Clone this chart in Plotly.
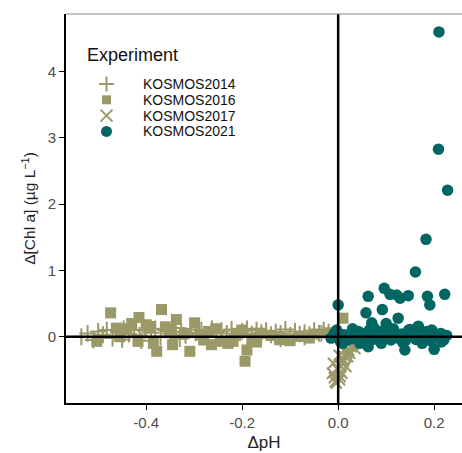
import plotly.graph_objects as go

OLIVE = "#9b9968"
TEAL = "#006662"

x2014 = [-0.535, -0.522, -0.51, -0.5, -0.49, -0.482, -0.47, -0.458, -0.447, -0.436, -0.425, -0.414,
         -0.402, -0.39, -0.381, -0.37, -0.36, -0.35, -0.338, -0.327, -0.318, -0.306, -0.296, -0.285,
         -0.275, -0.263, -0.254, -0.243, -0.232, -0.222, -0.211, -0.2, -0.19, -0.18, -0.17, -0.16,
         -0.15, -0.14, -0.13, -0.12, -0.11, -0.1, -0.09, -0.08, -0.07, -0.06, -0.05, -0.04, -0.03,
         -0.02, -0.012, -0.45, -0.41, -0.33, -0.29, -0.22, -0.17, -0.12, -0.07, -0.035]
y2014 = [0.0, 0.05, -0.05, 0.08, 0.03, 0.1, -0.02, 0.07, 0.12, 0.04, 0.1, 0.02,
         0.09, 0.06, 0.12, 0.0, 0.1, 0.05, 0.13, 0.08, 0.02, 0.11, 0.06, 0.1,
         0.03, 0.12, 0.07, 0.09, 0.05, 0.11, 0.02, 0.08, 0.12, 0.04, 0.1, 0.06,
         0.09, 0.03, 0.07, 0.05, 0.11, 0.02, 0.08, 0.04, 0.06, 0.03, 0.09, 0.05, 0.1,
         0.07, 0.02, -0.04, -0.06, -0.03, 0.04, -0.05, -0.02, -0.03, 0.0, 0.05]

x2016 = [-0.474, -0.415, -0.368, -0.337, -0.299, -0.378, -0.309, -0.194, -0.19, -0.264, -0.503,
         -0.417, -0.201, -0.219, 0.01, -0.462, -0.392, -0.35, -0.288, -0.246, -0.163, -0.122,
         -0.08, -0.44, -0.4, -0.36, -0.32, -0.27, -0.23, -0.18, -0.14, -0.1, -0.05, -0.02,
         -0.455, -0.43, -0.385, -0.345, -0.28, -0.255, -0.21, -0.17, -0.06, 0.005]
y2016 = [0.36, 0.29, 0.41, 0.26, 0.21, -0.22, -0.22, -0.37, -0.2, -0.12, -0.07,
         -0.07, 0.1, -0.07, 0.28, 0.13, 0.155, 0.1, 0.03, -0.07, 0.055, -0.045,
         0.005, 0.12, 0.18, 0.15, 0.05, 0.08, -0.1, -0.05, 0.02, -0.06, 0.04, 0.06,
         0.0, 0.2, -0.1, -0.12, -0.05, 0.12, 0.05, -0.08, -0.02, 0.02]

x2017 = [-0.012, -0.008, -0.004, 0.0, 0.003, 0.006, 0.01, 0.014, 0.018, 0.022, 0.026, 0.03,
         0.035, -0.01, 0.002, 0.008, 0.012, 0.016, 0.02, -0.006, 0.004, 0.024]
y2017 = [-0.55, -0.62, -0.7, -0.5, -0.65, -0.45, -0.38, -0.3, -0.25, -0.2, -0.15, -0.12,
         -0.18, -0.4, -0.28, -0.55, -0.35, -0.45, -0.3, -0.68, -0.6, -0.25]

x2021 = [0.21, 0.209, 0.228, 0.183, 0.161, 0.096, 0.108, 0.122, 0.146, 0.129, 0.0625, 0.186,
         0.191, 0.222, 0.0, 0.058, 0.092, 0.125, 0.07, 0.1, 0.167, -0.003, 0.0625, 0.139, 0.2,
         -0.015, -0.008, 0.005, 0.012, 0.02, 0.028, 0.035, 0.042, 0.05, 0.057, 0.065, 0.072,
         0.08, 0.087, 0.094, 0.102, 0.11, 0.117, 0.125, 0.132, 0.14, 0.147, 0.155, 0.162,
         0.17, 0.177, 0.185, 0.192, 0.2, 0.207, 0.214, 0.22, 0.226, 0.03, 0.045, 0.075,
         0.09, 0.115, 0.135, 0.15, 0.175, 0.195, 0.215, 0.01, 0.05, 0.085, 0.16]
y2021 = [4.6, 2.83, 2.21, 1.47, 0.976, 0.73, 0.64, 0.63, 0.62, 0.58, 0.61, 0.61,
         0.48, 0.64, 0.48, 0.36, 0.41, 0.28, 0.21, 0.2, 0.16, 0.1, -0.15, -0.2, -0.19,
         -0.02, 0.05, -0.08, 0.03, -0.05, 0.06, -0.03, 0.08, -0.06, 0.02, 0.1, -0.04,
         0.05, -0.07, 0.09, 0.0, -0.05, 0.07, -0.02, 0.04, -0.06, 0.1, 0.01, -0.04,
         0.06, -0.03, 0.08, -0.06, 0.03, -0.02, 0.05, -0.05, 0.02, 0.12, -0.1, 0.13,
         -0.1, 0.12, -0.09, 0.11, -0.1, 0.1, -0.08, -0.1, 0.05, 0.03, 0.07]

xticks = [-0.4, -0.2, 0.0, 0.2]
xtick_labels = ["-0.4", "-0.2", "0.0", "0.2"]
yticks = [0, 1, 2, 3, 4]
ytick_labels = ["0", "1", "2", "3", "4"]

legend_title = "Experiment"
legend_names = ["KOSMOS2014", "KOSMOS2016", "KOSMOS2017", "KOSMOS2021"]
legend_keys = ["plus", "square", "x", "circle"]
legend_colors = [OLIVE, OLIVE, OLIVE, TEAL]

fig = go.Figure()
fig.add_trace(go.Scatter(x=x2014, y=y2014, mode="markers", name=legend_names[0],
                         marker=dict(symbol="cross-thin", size=12, color=OLIVE,
                                     line=dict(color=OLIVE, width=2))))
fig.add_trace(go.Scatter(x=x2016, y=y2016, mode="markers", name=legend_names[1],
                         marker=dict(symbol="square", size=11, color=OLIVE)))
fig.add_trace(go.Scatter(x=x2017, y=y2017, mode="markers", name=legend_names[2],
                         marker=dict(symbol="x-thin", size=11, color=OLIVE,
                                     line=dict(color=OLIVE, width=2))))
fig.add_trace(go.Scatter(x=x2021, y=y2021, mode="markers", name=legend_names[3],
                         marker=dict(symbol="circle", size=11.5, color=TEAL)))

fig.add_shape(type="line", xref="x", yref="paper", x0=0, x1=0, y0=0, y1=1,
              line=dict(color="black", width=2.5), layer="above")
fig.add_shape(type="line", xref="paper", yref="y", x0=0, x1=1, y0=0, y1=0,
              line=dict(color="black", width=2.5), layer="above")
fig.add_shape(type="line", xref="paper", yref="paper", x0=0, x1=1, y0=1, y1=1,
              line=dict(color="#888888", width=1))


# manual compact legend, like the reference
def px_to_paper(px, py):
    return (px - 66) / 396, (403 - py) / 389


tx, ty = px_to_paper(85, 55)
fig.add_annotation(x=tx, y=ty, xref="paper", yref="paper", text=legend_title,
                   showarrow=False, xanchor="left", yanchor="middle",
                   font=dict(size=18, color="#111111"))
row_py = [84, 99.8, 115.6, 131.4]
for name, key, col, py in zip(legend_names, legend_keys, legend_colors, row_py):
    mx, my = px_to_paper(106.5, py)
    common = dict(xref="paper", yref="paper", xsizemode="pixel", ysizemode="pixel",
                  xanchor=mx, yanchor=my)
    if key == "plus":
        fig.add_shape(type="path", path="M-7.5,0 L7.5,0 M0,-7.5 L0,7.5",
                      line=dict(color=col, width=2), **common)
    elif key == "square":
        fig.add_shape(type="rect", x0=-4.5, x1=4.5, y0=-4.5, y1=4.5,
                      line=dict(width=0), fillcolor=col, **common)
    elif key == "x":
        fig.add_shape(type="path", path="M-6,-6 L6,6 M-6,6 L6,-6",
                      line=dict(color=col, width=2), **common)
    else:
        fig.add_shape(type="circle", x0=-5.5, x1=5.5, y0=-5.5, y1=5.5,
                      line=dict(width=0), fillcolor=col, **common)
    lx, ly = px_to_paper(141.5, py)
    fig.add_annotation(x=lx, y=ly, xref="paper", yref="paper", text=name,
                       showarrow=False, xanchor="left", yanchor="middle",
                       borderpad=0, font=dict(size=14, color="#111111"))

fig.update_layout(
    width=462, height=453,
    margin=dict(l=66, r=0, t=14, b=50),
    plot_bgcolor="white", paper_bgcolor="white",
    font=dict(family="Liberation Sans, Arial", color="#333333"),
    showlegend=False,
)
fig.update_xaxes(range=[-0.567, 0.258], showgrid=False, zeroline=False,
                 tickmode="array", tickvals=xticks, ticktext=xtick_labels,
                 ticks="outside", ticklen=5, tickcolor="black", tickwidth=1,
                 showline=True, linecolor="black", linewidth=2,
                 tickfont=dict(size=15, color="#4d4d4d"),
                 title=dict(text="ΔpH", font=dict(size=17, color="#222222"), standoff=6))
fig.update_yaxes(range=[-1.0, 4.87], showgrid=False, zeroline=False,
                 tickmode="array", tickvals=yticks, ticktext=ytick_labels,
                 ticks="outside", ticklen=5, tickcolor="black", tickwidth=1,
                 showline=True, linecolor="black", linewidth=2,
                 tickfont=dict(size=15, color="#4d4d4d"),
                 title=dict(text="Δ[Chl a] (µg L<sup>−1</sup>)", font=dict(size=15.5, color="#222222"),
                            standoff=8))

fig.write_html("out.html")
